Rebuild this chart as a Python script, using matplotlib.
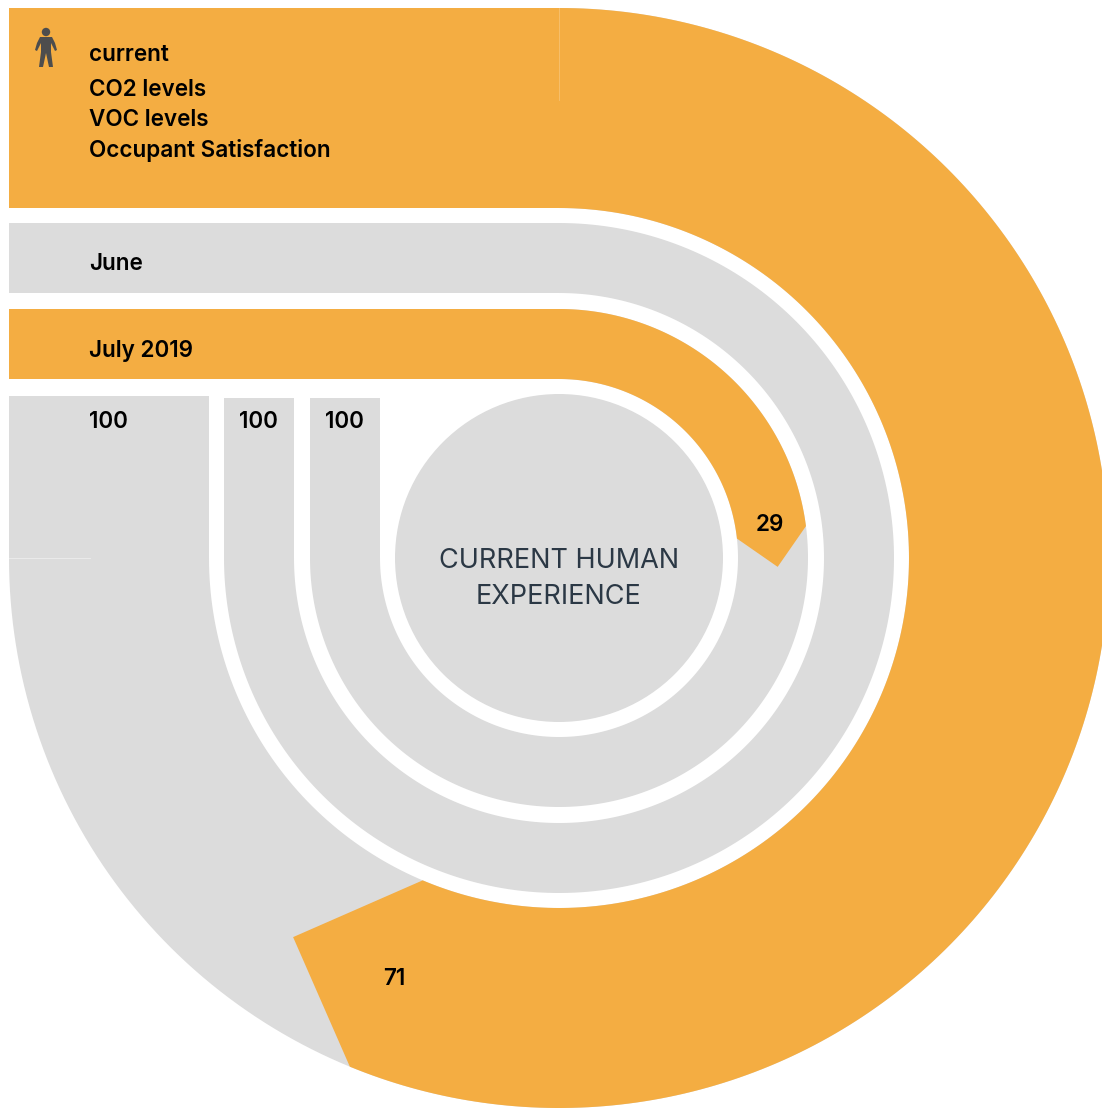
import numpy as np
import matplotlib
matplotlib.use("Agg")
import matplotlib.pyplot as plt
from matplotlib.patches import Circle, Polygon, Rectangle

# values, outermost ring first
ring_values = [71, 0, 29]
ring_totals = [100, 100, 100]
ring_titles = ["current", "June", "July 2019"]
ring_filled_bar = [True, False, True]
ring_inner = [350, 265, 179]
ring_outer = [550, 335, 249]
total_top = [396, 398, 398]
total_label_x = [108, 258, 344]
title_y = [55, 264.5, 350.5]
value_label_pos = [(394.5, 979), None, (770, 525)]
metrics = ["CO2 levels", "VOC levels", "Occupant Satisfaction"]
metric_y = [90.5, 120.5, 150.5]
centre_lines = ["CURRENT HUMAN", "EXPERIENCE"]

orange = "#F4AD42"
grey = "#DCDCDC"
cx, cy = 559, 558
deg_per_unit = 2.85
inner_lead = 3.5  # px the inner corner of the arrow sits ahead of the outer one


def polar(r, deg):
    # deg is clockwise from twelve o'clock, y axis points down
    a = np.radians(deg)
    return cx + r * np.sin(a), cy - r * np.cos(a)


def arc_pts(r, start, end):
    ds = np.linspace(start, end, 240)
    return np.column_stack(polar(r, ds))


def draw_value_arc(ax, r0, r1, value, color):
    end = value * deg_per_unit
    outer = arc_pts(r1, 0, end)
    inner = arc_pts(r0, end + np.degrees(inner_lead / r0), 0)
    chord = outer[-1] - inner[0]
    tip = (outer[-1] + inner[0]) / 2 + np.array([-chord[1], chord[0]]) / 2
    ax.add_patch(Polygon(np.vstack([outer, [tip], inner]), closed=True, fc=color, ec="none"))


fig = plt.figure(figsize=(11.02, 11.08), dpi=100)
ax = fig.add_axes([0, 0, 1, 1])
ax.set_xlim(0, 1102)
ax.set_ylim(1108, 0)
ax.axis("off")

text_font = ["Inter", "DejaVu Sans"]
label_size = 16.2
label_weight = "semibold"

for i in range(len(ring_values)):
    r0, r1 = ring_inner[i], ring_outer[i]
    # grey track: three quarters of a circle
    track = np.vstack([arc_pts(r1, 0, 270), arc_pts(r0, 270, 0)])
    ax.add_patch(Polygon(track, closed=True, fc=grey, ec="none"))
    # bar running left along the top, and the one going up at the end of the track
    bar_color = orange if ring_filled_bar[i] else grey
    ax.add_patch(Rectangle((9, cy - r1), cx - 9, r1 - r0, fc=bar_color, ec="none"))
    ax.add_patch(Rectangle((cx - r1, total_top[i]), r1 - r0, cy - total_top[i], fc=grey, ec="none"))
    if ring_values[i] > 0:
        draw_value_arc(ax, r0, r1, ring_values[i], orange)
    ax.text(total_label_x[i], 422.5, str(ring_totals[i]), ha="center", va="center",
            fontsize=label_size, family=text_font, weight=label_weight, color="black")
    ax.text(89, title_y[i], ring_titles[i], ha="left", va="center",
            fontsize=label_size, family=text_font, weight=label_weight, color="black")
    if value_label_pos[i] is not None:
        ax.text(value_label_pos[i][0], value_label_pos[i][1], str(ring_values[i]), ha="center", va="center",
                fontsize=label_size, family=text_font, weight=label_weight, color="black")

for m, y in zip(metrics, metric_y):
    ax.text(89, y, m, ha="left", va="center", fontsize=label_size, family=text_font,
            weight=label_weight, color="black")

# faint seams where bars meet arcs
ax.plot([9, 90], [558, 558], color="white", lw=0.6, alpha=0.5)
ax.plot([559, 559], [8, 100], color="white", lw=0.6, alpha=0.25)

ax.add_patch(Circle((cx, cy), 164, fc=grey, ec="none"))
ax.text(cx, 561, centre_lines[0], ha="center", va="center", fontsize=19.5, family=text_font,
        weight="normal", color="#2B3845")
ax.text(cx, 597, centre_lines[1], ha="center", va="center", fontsize=19.5, family=text_font,
        weight="normal", color="#2B3845")

# person icon
person = "#4D4D4D"
ax.add_patch(Circle((46, 32), 4.2, fc=person, ec="none"))
ax.add_patch(Polygon([(40, 37), (52, 37), (55, 43), (57, 50), (55, 51), (51, 43), (51, 52), (53, 67),
                      (49, 67), (46, 53), (43, 67), (39, 67), (41, 52), (41, 43), (37, 51), (35, 50),
                      (37, 43)], closed=True, fc=person, ec="none"))

fig.savefig("out.png", dpi=100)
